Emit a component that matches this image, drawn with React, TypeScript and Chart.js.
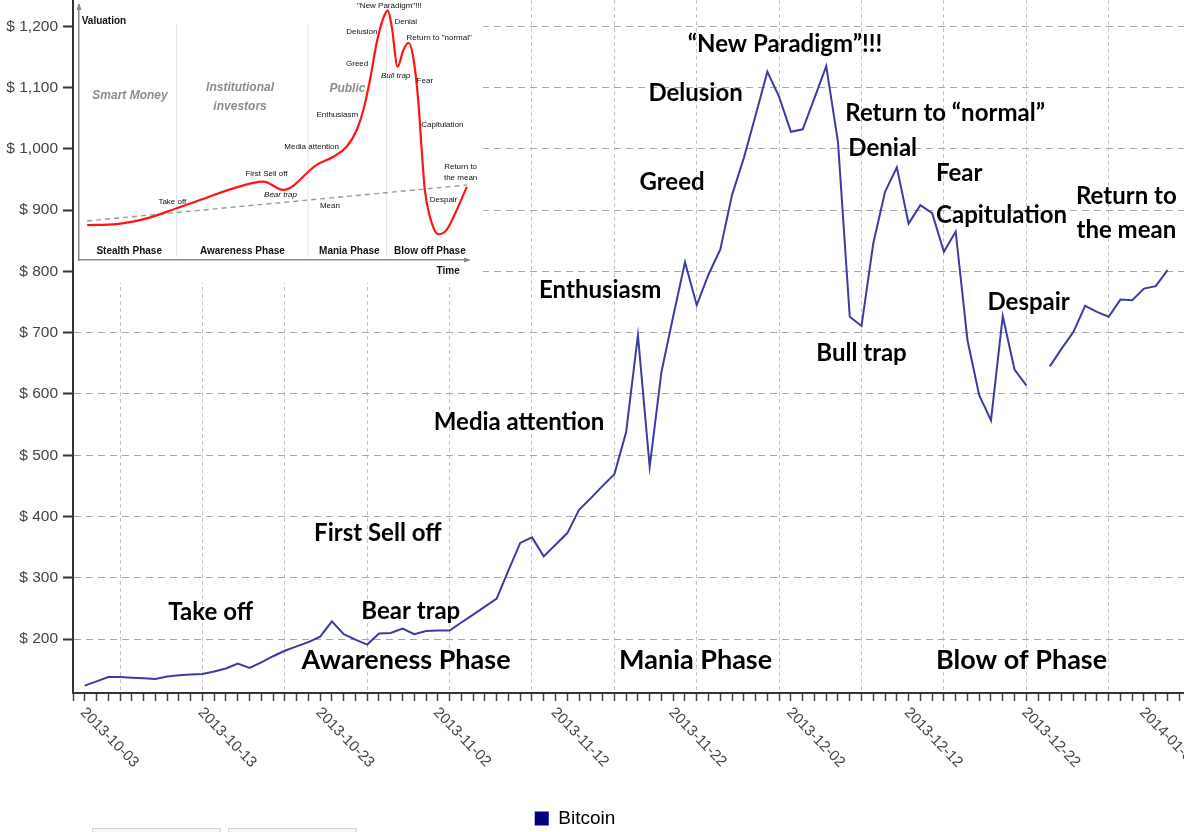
import React, { useEffect, useRef } from 'react';
import { Chart, registerables } from 'chart.js';

Chart.register(...registerables);

// ---------------- main chart data ----------------
const seriesLabel = 'Bitcoin';
// daily closing prices, first value = 2013-10-03 (null = missing day)
const prices: (number | null)[] = [
  124, 131, 138, 138, 137, 136, 135, 139, 141, 142,
  143, 147, 152, 160, 153, 162, 172, 181, 188, 195,
  204, 229, 208, 199, 191, 209, 210, 217, 208, 213,
  214, 214, 227, 240, 253, 266, 312, 357, 366, 335,
  354, 373, 411, 430, 450, 469, 538, 696, 481, 636,
  727, 815, 745, 795, 836, 925, 985, 1055, 1126, 1085,
  1028, 1032, 1083, 1135, 1011, 726, 711, 846, 930, 970,
  878, 908, 895, 832, 865, 688, 598, 557, 727, 640,
  614, null, 645, 674, 701, 744, 734, 726, 754, 753,
  772, 776, 802,
];
const xTickLabels = [
  '2013-10-03', '2013-10-13', '2013-10-23', '2013-11-02', '2013-11-12',
  '2013-11-22', '2013-12-02', '2013-12-12', '2013-12-22', '2014-01-01',
];
const xTickDays = [0, 10, 20, 30, 40, 50, 60, 70, 80, 90];

// stage annotations anchored in data space (day index, price)
const stageNotes = [
  { text: 'Take off', day: 10.7, value: 243 },
  { text: 'First Sell off', day: 24.9, value: 373 },
  { text: 'Bear trap', day: 27.7, value: 245 },
  { text: 'Media attention', day: 36.9, value: 554 },
  { text: 'Enthusiasm', day: 43.8, value: 769 },
  { text: 'Greed', day: 49.9, value: 945 },
  { text: 'Delusion', day: 51.9, value: 1091 },
  { text: '\u201CNew Paradigm\u201D!!!', day: 59.5, value: 1171 },
  { text: 'Return to \u201Cnormal\u201D', day: 73.1, value: 1058 },
  { text: 'Denial', day: 67.8, value: 1001 },
  { text: 'Fear', day: 74.3, value: 961 },
  { text: 'Capitulation', day: 77.9, value: 891 },
  { text: 'Bull trap', day: 66.0, value: 666 },
  { text: 'Despair', day: 80.2, value: 749 },
  { text: 'Return to', day: 88.5, value: 922 },
  { text: 'the mean', day: 88.5, value: 867 },
];
const phaseNotes = [
  { text: 'Awareness Phase', day: 27.3, value: 165 },
  { text: 'Mania Phase', day: 51.9, value: 165 },
  { text: 'Blow of Phase', day: 79.6, value: 165 },
];

// ---------------- inset (classic bubble diagram) ----------------
const insetCurveX = [2.1, 9.7, 17.4, 25.1, 31.1, 39.7, 47.4, 52.5, 61.1, 65.4, 68.8, 71.4, 73.1, 74.8, 76.5, 78.2, 79.4, 80.4, 81.9, 83.4, 84.7, 85.9, 87.2, 88.1, 88.9, 90.2, 92.4, 94.5, 97.1, 99.7];
const insetCurveY = [13.7, 14.1, 16.3, 20.3, 23.5, 28.1, 30.7, 27.5, 37.3, 40.5, 44.4, 51.0, 58.8, 70.6, 85.0, 94.8, 97.8, 91.5, 75.8, 82.4, 85.2, 79.7, 62.7, 43.1, 27.5, 17.0, 10.1, 11.8, 19.6, 28.7];
const insetMeanX = [2.1, 99.7];
const insetMeanY = [15.3, 29.4];
const insetSeparatorX = [25.1, 58.9, 79.1];
const insetSeparatorY = [1.2, 92.9];

const insetNotes: [string, number, number, string, CanvasTextAlign?][] = [
  ['Valuation', 0.7, 93.8, 'axis', 'left'],
  ['Smart Money', 13.1, 64.3, 'group'],
  ['Institutional', 41.4, 67.6, 'group'],
  ['investors', 41.4, 60.1, 'group'],
  ['Public', 69.0, 67.3, 'group'],
  ['Take off', 24.0, 22.9, 'note'],
  ['First Sell off', 48.2, 33.7, 'note'],
  ['Bear trap', 51.8, 25.5, 'italic'],
  ['Mean', 64.5, 21.2, 'note'],
  ['Media attention', 59.8, 44.4, 'note'],
  ['Enthusiasm', 66.4, 56.9, 'note'],
  ['Greed', 71.5, 77.1, 'note'],
  ['Delusion', 72.7, 89.4, 'note'],
  ['"New Paradigm"!!!', 79.8, 99.7, 'note'],
  ['Denial', 84.0, 93.3, 'note'],
  ['Return to "normal"', 92.6, 87.2, 'note'],
  ['Bull trap', 81.4, 72.2, 'italic'],
  ['Fear', 88.9, 70.2, 'note'],
  ['Capitulation', 93.4, 52.9, 'note'],
  ['Return to', 98.1, 36.6, 'note'],
  ['the mean', 98.1, 32.3, 'note'],
  ['Despair', 93.7, 23.5, 'note'],
  ['Stealth Phase', 12.9, 3.5, 'phase'],
  ['Awareness Phase', 42.0, 3.5, 'phase'],
  ['Mania Phase', 69.5, 3.5, 'phase'],
  ['Blow off Phase', 90.2, 3.5, 'phase'],
  ['Time', 94.9, -4.6, 'axis'],
];

const insetStyles: Record<string, { font: string; color: string }> = {
  note: { font: '8px "Liberation Sans", Arial, sans-serif', color: '#111' },
  italic: { font: 'italic 8px "Liberation Sans", Arial, sans-serif', color: '#111' },
  phase: { font: 'bold 10px "Liberation Sans", Arial, sans-serif', color: '#111' },
  group: { font: 'bold italic 12px "Liberation Sans", Arial, sans-serif', color: '#8c8c8c' },
  axis: { font: 'bold 10px "Liberation Sans", Arial, sans-serif', color: '#111' },
};

const SANS = '"Liberation Sans", Arial, sans-serif';

const mainNotesPlugin = {
  id: 'mainNotes',
  afterDatasetsDraw(chart: any) {
    const { ctx, scales } = chart;
    const xs = scales.x;
    const ys = scales.y;
    ctx.save();
    ctx.fillStyle = '#000';
    ctx.textAlign = 'center';
    ctx.textBaseline = 'middle';
    ctx.font = 'bold 24px Lato, sans-serif';
    for (const n of stageNotes) {
      ctx.fillText(n.text, xs.getPixelForValue(n.day), ys.getPixelForValue(n.value));
    }
    ctx.font = 'bold 27px Lato, sans-serif';
    for (const n of phaseNotes) {
      ctx.fillText(n.text, xs.getPixelForValue(n.day), ys.getPixelForValue(n.value));
    }
    ctx.restore();
  },
};

const dateLabelPlugin = {
  id: 'dateLabels',
  afterDraw(chart: any) {
    const xs = chart.scales.x;
    const ctx = chart.ctx;
    ctx.save();
    ctx.font = '15px ' + SANS;
    ctx.fillStyle = '#444';
    ctx.textAlign = 'left';
    ctx.textBaseline = 'middle';
    xTickLabels.forEach((lab, i) => {
      const x = xs.getPixelForValue(xTickDays[i]);
      ctx.save();
      ctx.translate(x - 2, xs.top + 17);
      ctx.rotate((46 * Math.PI) / 180);
      ctx.fillText(lab, 0, 0);
      ctx.restore();
    });
    ctx.restore();
  },
};

const legendShiftPlugin = {
  id: 'legendShift',
  afterLayout(chart: any) {
    const l = chart.legend;
    if (l) {
      l.left -= 17;
      l.right -= 17;
    }
  },
};

const insetDecorPlugin = {
  id: 'insetDecor',
  afterDraw(chart: any) {
    const { ctx, chartArea: a, scales } = chart;
    const xs = scales.x;
    const ys = scales.y;
    ctx.save();
    ctx.fillStyle = '#888';
    ctx.beginPath();
    ctx.moveTo(a.left, a.top - 2);
    ctx.lineTo(a.left - 2.5, a.top + 5);
    ctx.lineTo(a.left + 2.5, a.top + 5);
    ctx.closePath();
    ctx.fill();
    ctx.beginPath();
    ctx.moveTo(a.right + 3, a.bottom);
    ctx.lineTo(a.right - 4, a.bottom - 2.5);
    ctx.lineTo(a.right - 4, a.bottom + 2.5);
    ctx.closePath();
    ctx.fill();
    ctx.textBaseline = 'middle';
    for (const [text, xv, yv, kind, align] of insetNotes) {
      const st = insetStyles[kind];
      ctx.font = st.font;
      ctx.fillStyle = st.color;
      ctx.textAlign = align || 'center';
      ctx.fillText(text, xs.getPixelForValue(xv), ys.getPixelForValue(yv));
    }
    ctx.restore();
  },
};

export default function App() {
  const mainRef = useRef<HTMLCanvasElement>(null);
  const insetRef = useRef<HTMLCanvasElement>(null);

  useEffect(() => {
    const main = new Chart(mainRef.current as HTMLCanvasElement, {
      type: 'line',
      data: {
        datasets: [
          {
            label: seriesLabel,
            data: prices.map((v, i) => ({ x: i, y: v })) as any,
            borderColor: '#3c3ca0',
            backgroundColor: '#000080',
            borderWidth: 2,
            pointRadius: 0,
            tension: 0,
            spanGaps: false,
          },
        ],
      },
      options: {
        responsive: false,
        animation: false,
        devicePixelRatio: 1,
        events: [],
        layout: { padding: 0 },
        plugins: {
          tooltip: { enabled: false },
          legend: {
            position: 'bottom',
            labels: {
              boxWidth: 14,
              boxHeight: 14,
              padding: 10,
              color: '#222',
              font: { family: SANS, size: 19 },
              generateLabels: () => [
                {
                  text: seriesLabel,
                  fillStyle: '#000080',
                  strokeStyle: '#000080',
                  lineWidth: 0,
                  hidden: false,
                  datasetIndex: 0,
                } as any,
              ],
            },
          },
        },
        scales: {
          x: {
            type: 'linear',
            min: -1,
            max: 93.4,
            afterFit: (s: any) => {
              s.height = 106;
              s.paddingLeft = 0;
              s.paddingRight = 0;
            },
            ticks: { display: false, stepSize: 1, includeBounds: false },
            grid: {
              color: (c: any) =>
                c.tick && (((c.tick.value - 3) % 7) + 7) % 7 === 0 && c.tick.value > 0
                  ? '#c4c4c4'
                  : 'rgba(0,0,0,0)',
              lineWidth: 1,
              drawTicks: true,
              tickLength: 8,
              tickColor: '#444',
              tickWidth: 1.5,
            },
            border: { display: true, color: '#333', width: 2, dash: [4, 3] },
          },
          y: {
            type: 'linear',
            min: 112,
            max: 1243,
            afterFit: (s: any) => {
              s.width = 73;
              s.paddingTop = 0;
              s.paddingBottom = 0;
            },
            ticks: {
              stepSize: 100,
              includeBounds: false,
              padding: 5,
              color: '#444',
              font: { family: SANS, size: 15.5 },
              callback: (v: any) => '$ ' + Number(v).toLocaleString('en-US'),
            },
            grid: {
              color: '#a8a8a8',
              lineWidth: 1,
              drawTicks: true,
              tickLength: 10,
              tickColor: '#333',
              tickWidth: 2,
            },
            border: { display: true, color: '#333', width: 2, dash: [7, 5] },
          },
        },
      },
      plugins: [mainNotesPlugin, dateLabelPlugin, legendShiftPlugin],
    });

    const curve = insetCurveX.map((x, i) => ({ x, y: insetCurveY[i] }));
    const mean = insetMeanX.map((x, i) => ({ x, y: insetMeanY[i] }));
    const separators = insetSeparatorX.map((sx) => ({
      label: 'sep',
      data: insetSeparatorY.map((y) => ({ x: sx, y })),
      borderColor: '#e2e2e2',
      borderWidth: 1,
      pointRadius: 0,
    }));

    const inset = new Chart(insetRef.current as HTMLCanvasElement, {
      type: 'line',
      data: {
        datasets: [
          {
            label: 'Valuation',
            data: curve,
            borderColor: '#ff1414',
            borderWidth: 2.2,
            pointRadius: 0,
            cubicInterpolationMode: 'monotone',
          },
          {
            label: 'Mean',
            data: mean,
            borderColor: '#9a9a9a',
            borderWidth: 1.4,
            borderDash: [5, 4],
            pointRadius: 0,
          },
          ...separators,
        ] as any,
      },
      options: {
        responsive: false,
        animation: false,
        devicePixelRatio: 1,
        events: [],
        layout: { padding: { left: 5, top: 5, right: 15, bottom: 23 } },
        plugins: { legend: { display: false }, tooltip: { enabled: false } },
        scales: {
          x: {
            type: 'linear',
            min: 0,
            max: 100,
            ticks: { display: false },
            grid: { display: false, drawTicks: false },
            border: { display: true, color: '#8a8a8a', width: 1.5 },
          },
          y: {
            type: 'linear',
            min: 0,
            max: 100,
            ticks: { display: false },
            grid: { display: false, drawTicks: false },
            border: { display: true, color: '#8a8a8a', width: 1.5 },
          },
        },
      },
      plugins: [insetDecorPlugin],
    });

    return () => {
      main.destroy();
      inset.destroy();
    };
  }, []);

  return (
    <div
      style={{
        position: 'fixed',
        left: 0,
        top: 0,
        width: 1184,
        height: 832,
        overflow: 'hidden',
        background: '#fff',
      }}
    >
      <canvas ref={mainRef} width={1184} height={838} style={{ position: 'absolute', left: 0, top: 0 }} />
      <canvas
        ref={insetRef}
        width={409}
        height={283}
        style={{ position: 'absolute', left: 74, top: 0, background: '#fff' }}
      />
      <div
        style={{
          position: 'absolute',
          left: 92,
          top: 828,
          width: 127,
          height: 12,
          border: '1px solid #d4d4d4',
          background: '#f6f6f6',
        }}
      />
      <div
        style={{
          position: 'absolute',
          left: 228,
          top: 828,
          width: 127,
          height: 12,
          border: '1px solid #d4d4d4',
          background: '#f6f6f6',
        }}
      />
    </div>
  );
}
